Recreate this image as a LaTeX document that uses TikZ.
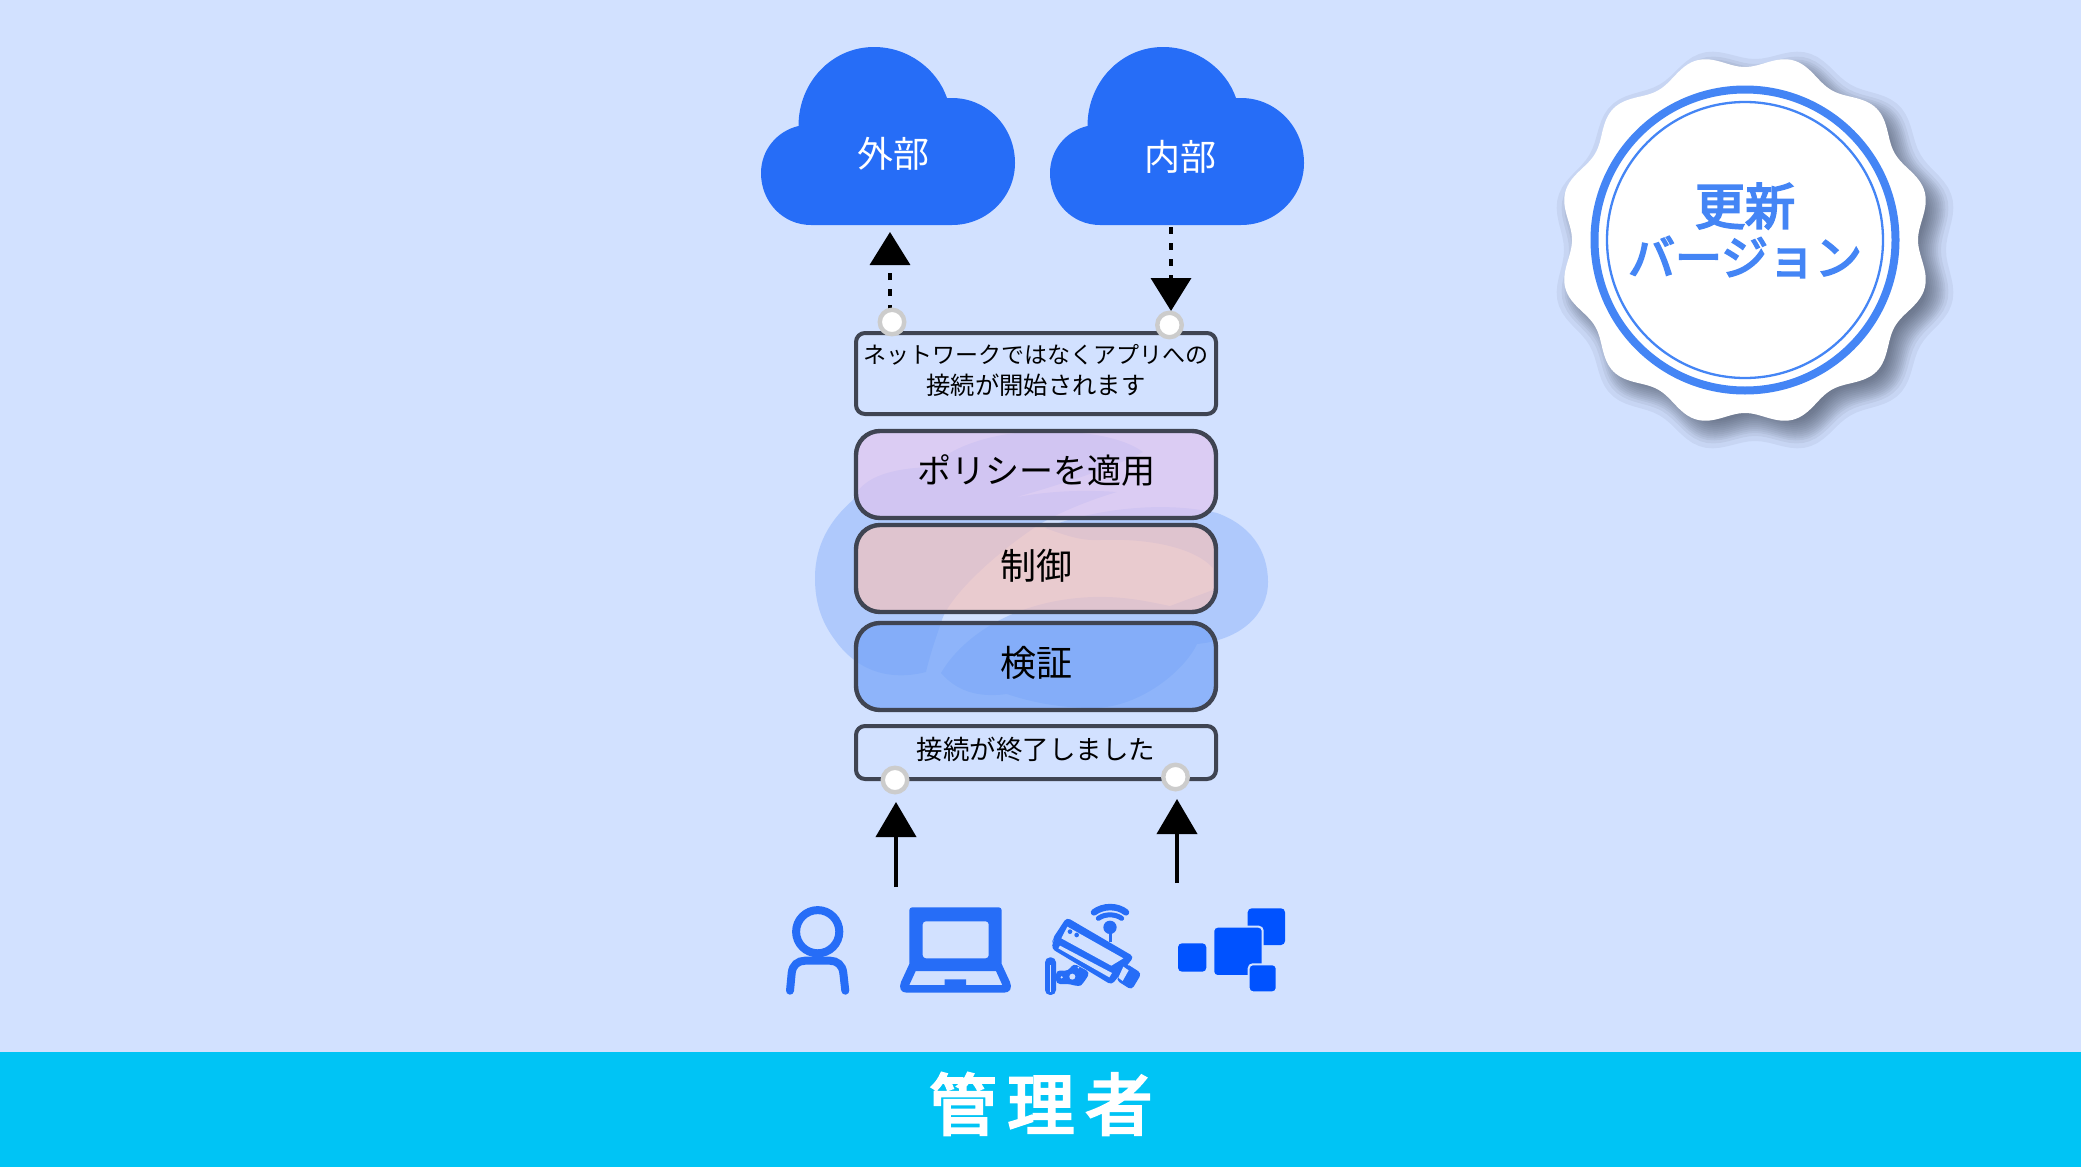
\documentclass[tikz,border=0pt]{standalone}
\usepackage{fontspec}
\usetikzlibrary{arrows.meta}
\newfontfamily\cjk{Noto Sans CJK JP}
\newfontfamily\cjkheavy[FakeBold=4]{Noto Sans CJK JP}
\definecolor{pagebg}{HTML}{D2E1FF}
\definecolor{bandc}{HTML}{00C4F5}
\definecolor{cloudc}{HTML}{266DF7}
\definecolor{blobc}{HTML}{AFC9FC}
\definecolor{linec}{HTML}{3F4452}
\definecolor{ringc}{HTML}{4485F5}
\definecolor{squarec}{HTML}{0052FF}
\definecolor{purplec}{HTML}{E0C4EE}
\definecolor{pinkc}{HTML}{F4C2BC}
\definecolor{bluec}{HTML}{72A2F8}
\definecolor{shadowc}{HTML}{3A4456}
\newcommand{\fs}[1]{\fontsize{#1}{#1}\selectfont}
\newcommand{\cloudpath}{(811,225) .. controls (783,225) and (761,202) .. (761,173) .. controls (761,150) and (777,131) .. (798.5,126) .. controls (798.5,82) and (832,47) .. (874,47) .. controls (908,47) and (937,69) .. (947,98) -- (952,98) .. controls (987,98) and (1015,127) .. (1015,163) .. controls (1015,197) and (987,225) .. (952,225) -- cycle}
\tikzset{
  stack/.style={draw=linec,line width=4.4pt,rounded corners=24pt,minimum width=360pt,minimum height=87pt,fill opacity=.7,text opacity=1,inner sep=0pt},
  plainbox/.style={draw=linec,line width=4pt,rounded corners=9pt,minimum width=360pt,inner sep=0pt},
  handle/.style={circle,draw=black!20,fill=white,line width=4.4pt,minimum size=24.5pt,inner sep=0pt},
  boxtext/.style={text=black,inner sep=0pt,align=center},
  dasharrow/.style={line width=3.6pt,dash pattern=on 7pt off 9pt,-{Triangle[length=33pt,width=40pt]}},
  solidarrow/.style={line width=4pt,-{Triangle[length=35pt,width=40pt]}},
  cloudtext/.style={text=white,inner sep=0pt},
  icon/.style={fill=cloudc,draw=none},
  sq/.style={fill=squarec,draw=pagebg,line width=2pt,rounded corners=4pt},
  hole/.style={fill=pagebg,draw=none}
}
\begin{document}
\begin{tikzpicture}[x=1pt,y=-1pt,font=\cjk]
\useasboundingbox (0,0) rectangle (2081,1167);
\fill[pagebg] (0,0) rectangle (2081,1167);
\fill[bandc] (0,1052) rectangle (2081,1167);
\node[text=white,inner sep=0pt,font=\cjkheavy\fs{67}] (title) at (1041,1104) {管\hspace{11pt}理\hspace{11pt}者};
% pale logo behind the stack
\fill[blobc] (926,672) .. controls (895,680) and (860,675) .. (835,640) .. controls (820,620) and (815,600) .. (815,578) .. controls (815,545) and (830,520) .. (853,500) .. controls (860,480) and (885,468) .. (933,467) .. controls (950,445) and (1000,432) .. (1033,432) .. controls (1075,430) and (1120,435) .. (1143,452) .. controls (1120,465) and (1060,485) .. (1013,498) .. controls (1050,490) and (1090,490) .. (1117,492) .. controls (1090,500) and (1060,512) .. (1040,524) .. controls (1000,550) and (955,590) .. (943,617) .. controls (935,640) and (930,655) .. (926,672) -- cycle;
\fill[blobc] (941,673) .. controls (960,640) and (1010,600) .. (1093,597) .. controls (1125,596) and (1150,602) .. (1170,606) -- (1213,590) -- (1213,568) .. controls (1195,548) and (1150,538) .. (1100,540) .. controls (1080,541) and (1065,535) .. (1045,528) .. controls (1090,510) and (1160,500) .. (1217,513) .. controls (1250,525) and (1268,550) .. (1268,582) .. controls (1268,615) and (1240,640) .. (1197,644) .. controls (1185,670) and (1140,708) .. (1093,708) .. controls (1060,708) and (1030,702) .. (1007,694) .. controls (985,697) and (960,695) .. (941,673) -- cycle;
% clouds
\fill[cloudc] \cloudpath;
\fill[cloudc,shift={(289,0)}] \cloudpath;
\node[cloudtext] (ext) at (893,154) {\fs{36}外部};
\node[cloudtext] (int) at (1180,157) {\fs{36}内部};
% stack
\node[plainbox,minimum height=81pt] (conn) at (1036,373.5) {};
\node[boxtext] (connt) at (1036,355) {\fs{23}ネットワークではなくアプリへの};
\node[boxtext] (connu) at (1036,385) {\fs{24.3}接続が開始されます};
\node[stack,fill=purplec] (pol) at (1036,474.5) {};
\node[boxtext] (polt) at (1036,471) {\fs{34}ポリシーを適用};
\node[stack,fill=pinkc] (ctl) at (1036,568.5) {};
\node[boxtext] (ctlt) at (1036,566) {\fs{36}制御};
\node[stack,fill=bluec] (ver) at (1036,666.5) {};
\node[boxtext] (vert) at (1036,663) {\fs{36}検証};
\node[plainbox,minimum height=53pt] (end) at (1036,752.5) {};
\node[boxtext] (endt) at (1036,749) {\fs{26.5}接続が終了しました};
% connectors
\coordinate (a1s) at (890,312); \coordinate (a1e) at (890,232);
\coordinate (a2s) at (1171,227); \coordinate (a2e) at (1171,311);
\coordinate (a3s) at (896,887); \coordinate (a3e) at (896,802);
\coordinate (a4s) at (1177,883); \coordinate (a4e) at (1177,799);
\draw[dasharrow] (a1s) -- (a1e);
\draw[dasharrow] (a2s) -- (a2e);
\draw[solidarrow] (a3s) -- (a3e);
\draw[solidarrow] (a4s) -- (a4e);
\node[handle] (h1) at (892,322) {};
\node[handle] (h2) at (1169.5,325) {};
\node[handle] (h3) at (895,780) {};
\node[handle] (h4) at (1175.5,777) {};
% person
\draw[cloudc,line width=8pt] (817.7,931.7) circle (21.6);
\draw[cloudc,line width=8pt,line cap=round] (790,990.7) -- (791.7,973) .. controls (792.5,965) and (798,960.7) .. (805,960.7) -- (830,960.7) .. controls (837,960.7) and (842.5,965) .. (843.3,973) -- (845.3,990.7);
% laptop
\fill[icon,even odd rule,rounded corners=3pt] (909.3,907.3) -- (1001.7,907.3) -- (1001.7,967) -- (909.3,967) -- cycle (922.7,921.3) -- (988.7,921.3) -- (988.7,958.3) -- (922.7,958.3) -- cycle;
\fill[icon,even odd rule] (909.3,964) -- (1001.7,964) -- (1010,982) .. controls (1012.5,988) and (1010,992.7) .. (1004,992.7) -- (906.7,992.7) .. controls (901,992.7) and (898.5,988) .. (901,982) -- cycle (915.7,971) -- (909.3,985) -- (944.7,985) -- (944.7,979.3) -- (966,979.3) -- (966,985) -- (1002.3,985) -- (996,971) -- cycle;
% camera
\begin{scope}[shift={(1040,895)},x=0.3333pt,y=-0.3333pt]
  \draw[cloudc,line width=6.5pt,line cap=round] (162,52) .. controls (190,31) and (232,31) .. (258,52);
  \draw[cloudc,line width=5pt,line cap=round] (175,70) .. controls (195,56) and (225,56) .. (245,70);
  \fill[cloudc] (210,97) circle (20);
  \draw[cloudc,line width=3pt] (210,97) -- (210,140);
  \fill[icon,rounded corners=5pt] (15,187) rectangle (48,300);
  \draw[pagebg,line width=.7pt] (32,210) -- (32,290);
  \fill[icon,rounded corners=4pt] (48,226) -- (85,228) -- (100,205) -- (150,232) -- (132,262) .. controls (120,274) and (105,272) .. (90,267) -- (48,267) -- cycle;
  \fill[hole] (97,245) circle (9);
  \fill[hole] (65,247) circle (3.5);
  \fill[hole] (115,218) circle (2.5);
  \fill[icon,rounded corners=4pt] (80,67) -- (282,185) -- (215,270) -- (33,160) -- (42,145) -- (36,134) -- cycle;
  \fill[hole] (82,95) -- (64,130) -- (214,212) -- (250,190) -- cycle;
  \fill[cloudc] (90,110) circle (7);
  \fill[cloudc] (110,120) circle (7);
  \fill[hole] (60,152) -- (55,160) -- (208,247) -- (216,234) -- cycle;
  \fill[icon,rounded corners=4pt] (258,205) -- (305,235) -- (275,285) -- (228,255) -- cycle;
  \fill[hole] (250,215) -- (266,226) -- (248,258) -- (235,248) -- cycle;
\end{scope}
% squares
\draw[sq,draw=none] (1247.7,908.3) rectangle (1285,945);
\draw[sq,draw=none] (1178,943.3) rectangle (1206.3,971.7);
\draw[sq] (1213.3,926.7) rectangle (1262.7,976);
\draw[sq] (1248.7,964.3) rectangle (1276.7,992.3);
% badge
\begin{scope}[shift={(1745,240)}]
  \foreach \k in {-18,-13,-10,-8,-6,-4,-2,0,2,4,6,8,10,13,18}
    \fill[shadowc,opacity=.07,shift={(10,10)}] plot[domain=0:360,samples=181] ({(179.5+\k-6.5*cos(12*\x))*cos(\x)},{(179.5+\k-6.5*cos(12*\x))*sin(\x)}) -- cycle;
  \fill[white] plot[domain=0:360,samples=361] ({(179.5-6.5*cos(12*\x))*cos(\x)},{(179.5-6.5*cos(12*\x))*sin(\x)}) -- cycle;
  \draw[ringc,line width=8pt] (0,0) circle (150.5);
  \draw[ringc,line width=2.3pt] (0,0) circle (138);
\end{scope}
\node[text=ringc,inner sep=0pt,font=\cjkheavy\fs{50}] (b1) at (1745,206) {更新};
\node[text=ringc,inner sep=0pt,font=\cjkheavy\fs{47}] (b2) at (1745,257) {バージョン};
\end{tikzpicture}
\end{document}
